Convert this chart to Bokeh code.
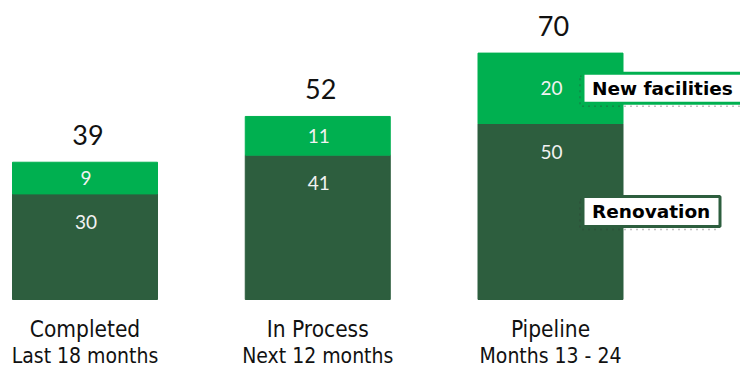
from bokeh.plotting import figure
from bokeh.models import Range1d, BoxAnnotation, Label, ColumnDataSource
from bokeh.core.properties import value
from bokeh.embed import file_html
from bokeh.resources import INLINE

# ---- data ----
categories = ["Completed", "In Process", "Pipeline"]
subtitles = ["Last 18 months", "Next 12 months", "Months 13 - 24"]
renovation = [30, 41, 50]
new_facilities = [9, 11, 20]
series_names = ["New facilities", "Renovation"]

LIGHT = "#00B050"
DARK = "#2D5E3E"

W, H = 740, 367
XPX = 232.75          # px per category
X0 = -84.5 / XPX
YPX = 3.52            # px per unit
Y0 = -(H - 299) / YPX

xs = list(range(len(categories)))
totals = [r + n for r, n in zip(renovation, new_facilities)]
src = ColumnDataSource(dict(
    x=xs,
    cat=categories,
    sub=subtitles,
    ren=renovation,
    new=new_facilities,
    tot=totals,
    ren_lbl=[str(v) for v in renovation],
    new_lbl=[str(v) for v in new_facilities],
    tot_lbl=[str(v) for v in totals],
    new_mid=[r + n / 2 for r, n in zip(renovation, new_facilities)],
    zero=[0] * len(xs),
))

p = figure(width=W, height=H, output_backend="svg", toolbar_location=None,
           x_range=Range1d(X0, X0 + W / XPX), y_range=Range1d(Y0, Y0 + H / YPX),
           min_border=0, min_border_left=0, min_border_right=0,
           min_border_top=0, min_border_bottom=0)
p.axis.visible = False
p.grid.visible = False
p.outline_line_color = None
p.background_fill_color = "white"

BW = 145 / XPX
p.vbar(x="x", bottom=0, top="ren", width=BW, color=DARK, source=src)
p.vbar(x="x", bottom="ren", top="tot", width=BW, color=LIGHT, source=src)

num_font = value("Lato")
p.text(x="x", y="tot", text="tot_lbl", source=src, text_align="center",
       text_baseline="middle", y_offset=-27, x_offset=3, text_font=num_font,
       text_font_size="27px", text_color="#111111")
p.text(x="x", y="new_mid", text="new_lbl", source=src, text_align="center",
       text_baseline="middle", x_offset=1, text_font=num_font, text_font_size="19px",
       text_color="#F2F2F2")
p.text(x="x", y="ren", text="ren_lbl", source=src, text_align="center",
       text_baseline="middle", y_offset=28, x_offset=1, text_font=num_font,
       text_font_size="19px", text_color="#F2F2F2")

cat_font = value("Liberation Sans Narrow, DejaVu Sans Condensed")
p.text(x="x", y="zero", text="cat", source=src, text_align="center",
       text_baseline="middle", y_offset=29, text_font=cat_font,
       text_font_size="22.5px", text_color="#111111")
p.text(x="x", y="zero", text="sub", source=src, text_align="center",
       text_baseline="middle", y_offset=56, text_font=cat_font,
       text_font_size="21px", text_color="#111111")

# ---- legend boxes anchored to the last bar ----
last = len(xs) - 1
bar_right = xs[last] + BW / 2
def px_x(n):
    return n / XPX
def px_y(n):
    return n / YPX

legend_specs = [
    (series_names[0], renovation[last] + new_facilities[last] / 2, LIGHT, px_x(200)),
    (series_names[1], renovation[last] / 2, DARK, px_x(137)),
]
for name, ymid, col, wdt in legend_specs:
    left = bar_right - px_x(40)
    half = px_y(15)
    shadow = BoxAnnotation(left=left - px_x(3), right=left + wdt - px_x(3),
                           bottom=ymid - half - px_y(3), top=ymid + half - px_y(3),
                           fill_alpha=0, line_color="#333333", line_width=1.5,
                           line_dash="dotted")
    box = BoxAnnotation(left=left, right=left + wdt, bottom=ymid - half,
                        top=ymid + half, fill_color="white", fill_alpha=1,
                        line_color=col, line_width=3, line_alpha=1)
    p.add_layout(shadow)
    p.add_layout(box)
    p.add_layout(Label(x=left + px_x(9), y=ymid, text=name,
                       text_baseline="middle", text_font="DejaVu Sans",
                       text_font_style="bold", text_font_size="18.5px",
                       text_color="#000000"))

open("out.html", "w").write(file_html(p, INLINE))
